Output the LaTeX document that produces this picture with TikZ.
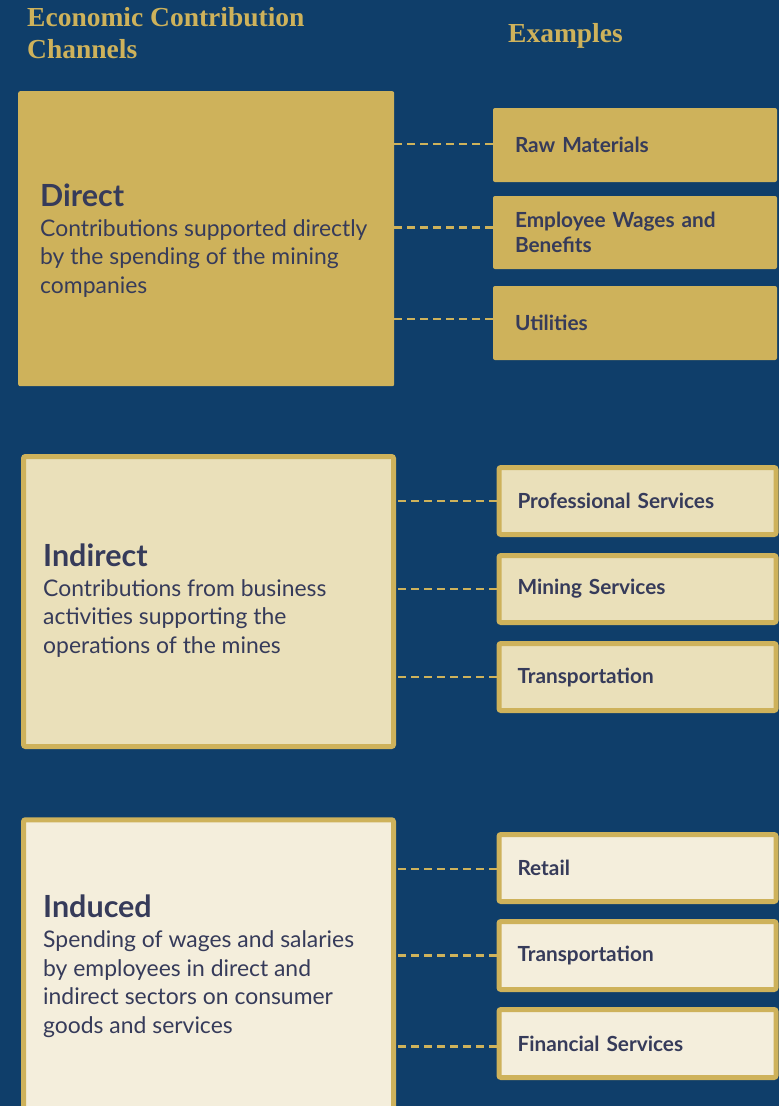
\documentclass[tikz,border=0pt]{standalone}
\usepackage{fontspec}
\setmainfont{Lato}
\newfontfamily\hfont{Liberation Serif}
\definecolor{bg}{HTML}{0F3E6A}
\definecolor{gold}{HTML}{CEB25B}
\definecolor{tan}{HTML}{EAE0BA}
\definecolor{cream}{HTML}{F4EEDC}
\definecolor{ink}{HTML}{363B5A}
\begin{document}
\begin{tikzpicture}[x=1pt,y=-1pt,
  hdr/.style={anchor=base west,inner sep=0,text=gold,font=\hfont\bfseries\fontsize{27.5}{32}\selectfont,align=left},
  ttl/.style={anchor=base west,inner sep=0,text=ink,font=\bfseries\fontsize{30.5}{34}\selectfont},
  body/.style={anchor=base west,inner sep=0,text=ink,font=\fontsize{22.9}{28.5}\selectfont,align=left},
  bigbox/.style={rounded corners=2pt,line width=5pt,draw=gold},
  exbox/.style={rounded corners=2pt,line width=5pt,draw=gold,text=ink,font=\bfseries\fontsize{20.8}{25}\selectfont,align=left,text width=240pt,inner xsep=18.5pt,inner ysep=0pt,minimum width=276pt,minimum height=67pt},
  dexbox/.style={exbox,draw=none,line width=0pt,fill=gold,inner xsep=22pt,minimum width=283pt},
  link/.style={draw=gold,line width=2.2pt,dash pattern=on 8pt off 5pt}]
\fill[bg] (0,0) rectangle (779,1106);
\useasboundingbox (0,0) rectangle (779,1106);
% headers
\node[hdr] (h1) at (27,58) {Economic Contribution\\Channels};
\node[hdr] (h2) at (508,42) {Examples};
% direct
\node[fill=gold,rounded corners=2pt,minimum width=376pt,minimum height=295pt,inner sep=0,anchor=north west] (direct) at (18,91) {};
\node[ttl] (dt) at (40,206) {Direct};
\node[body] (db) at (40,293) {Contributions supported directly\\by the spending of the mining\\companies};
\node[dexbox,minimum height=74pt,anchor=north west] (raw) at (493,108) {Raw Materials};
\node[dexbox,minimum height=73pt,anchor=north west] (emp) at (493,196) {Employee Wages and\\Benefits};
\node[dexbox,minimum height=74pt,anchor=north west] (util) at (493,286) {Utilities};
\draw[link] ([yshift=1pt]raw.west) -- ([yshift=1pt]raw.west -| direct.east);
\draw[link] ([yshift=5pt]emp.west) -- ([yshift=5pt]emp.west -| direct.east);
\draw[link] ([yshift=4pt]util.west) -- ([yshift=4pt]util.west -| direct.east);
% indirect
\node[bigbox,fill=tan,minimum width=370pt,minimum height=290pt,inner sep=0] (indirect) at (208.5,601.5) {};
\node[ttl] (it) at (43,566) {Indirect};
\node[body] (ib) at (43,653) {Contributions from business\\activities supporting the\\operations of the mines};
\node[exbox,fill=tan] (prof) at (637.5,501) {Professional Services};
\node[exbox,fill=tan] (mine) at (637.5,589) {Mining Services};
\node[exbox,fill=tan] (trans) at (637.5,677) {Transportation};
\draw[link] (prof.west) -- (prof.west -| indirect.east);
\draw[link] (mine.west) -- (mine.west -| indirect.east);
\draw[link] (trans.west) -- (trans.west -| indirect.east);
% induced
\node[bigbox,fill=cream,minimum width=370pt,minimum height=310pt,inner sep=0] (induced) at (208.5,974.75) {};
\node[ttl] (nt) at (43,917) {Induced};
\node[body] (nb) at (43,1033) {Spending of wages and salaries\\by employees in direct and\\indirect sectors on consumer\\goods and services};
\node[exbox,fill=cream] (retail) at (637.5,868) {Retail};
\node[exbox,fill=cream,minimum height=68pt] (trans2) at (637.5,955.5) {Transportation};
\node[exbox,fill=cream,minimum height=68pt] (fin) at (637.5,1043.5) {Financial Services};
\draw[link] ([yshift=-1pt]retail.west) -- ([yshift=-1pt]retail.west -| induced.east);
\draw[link] (trans2.west) -- (trans2.west -| induced.east);
\draw[link] ([yshift=-3pt]fin.west) -- ([yshift=-3pt]fin.west -| induced.east);
\end{tikzpicture}
\end{document}
